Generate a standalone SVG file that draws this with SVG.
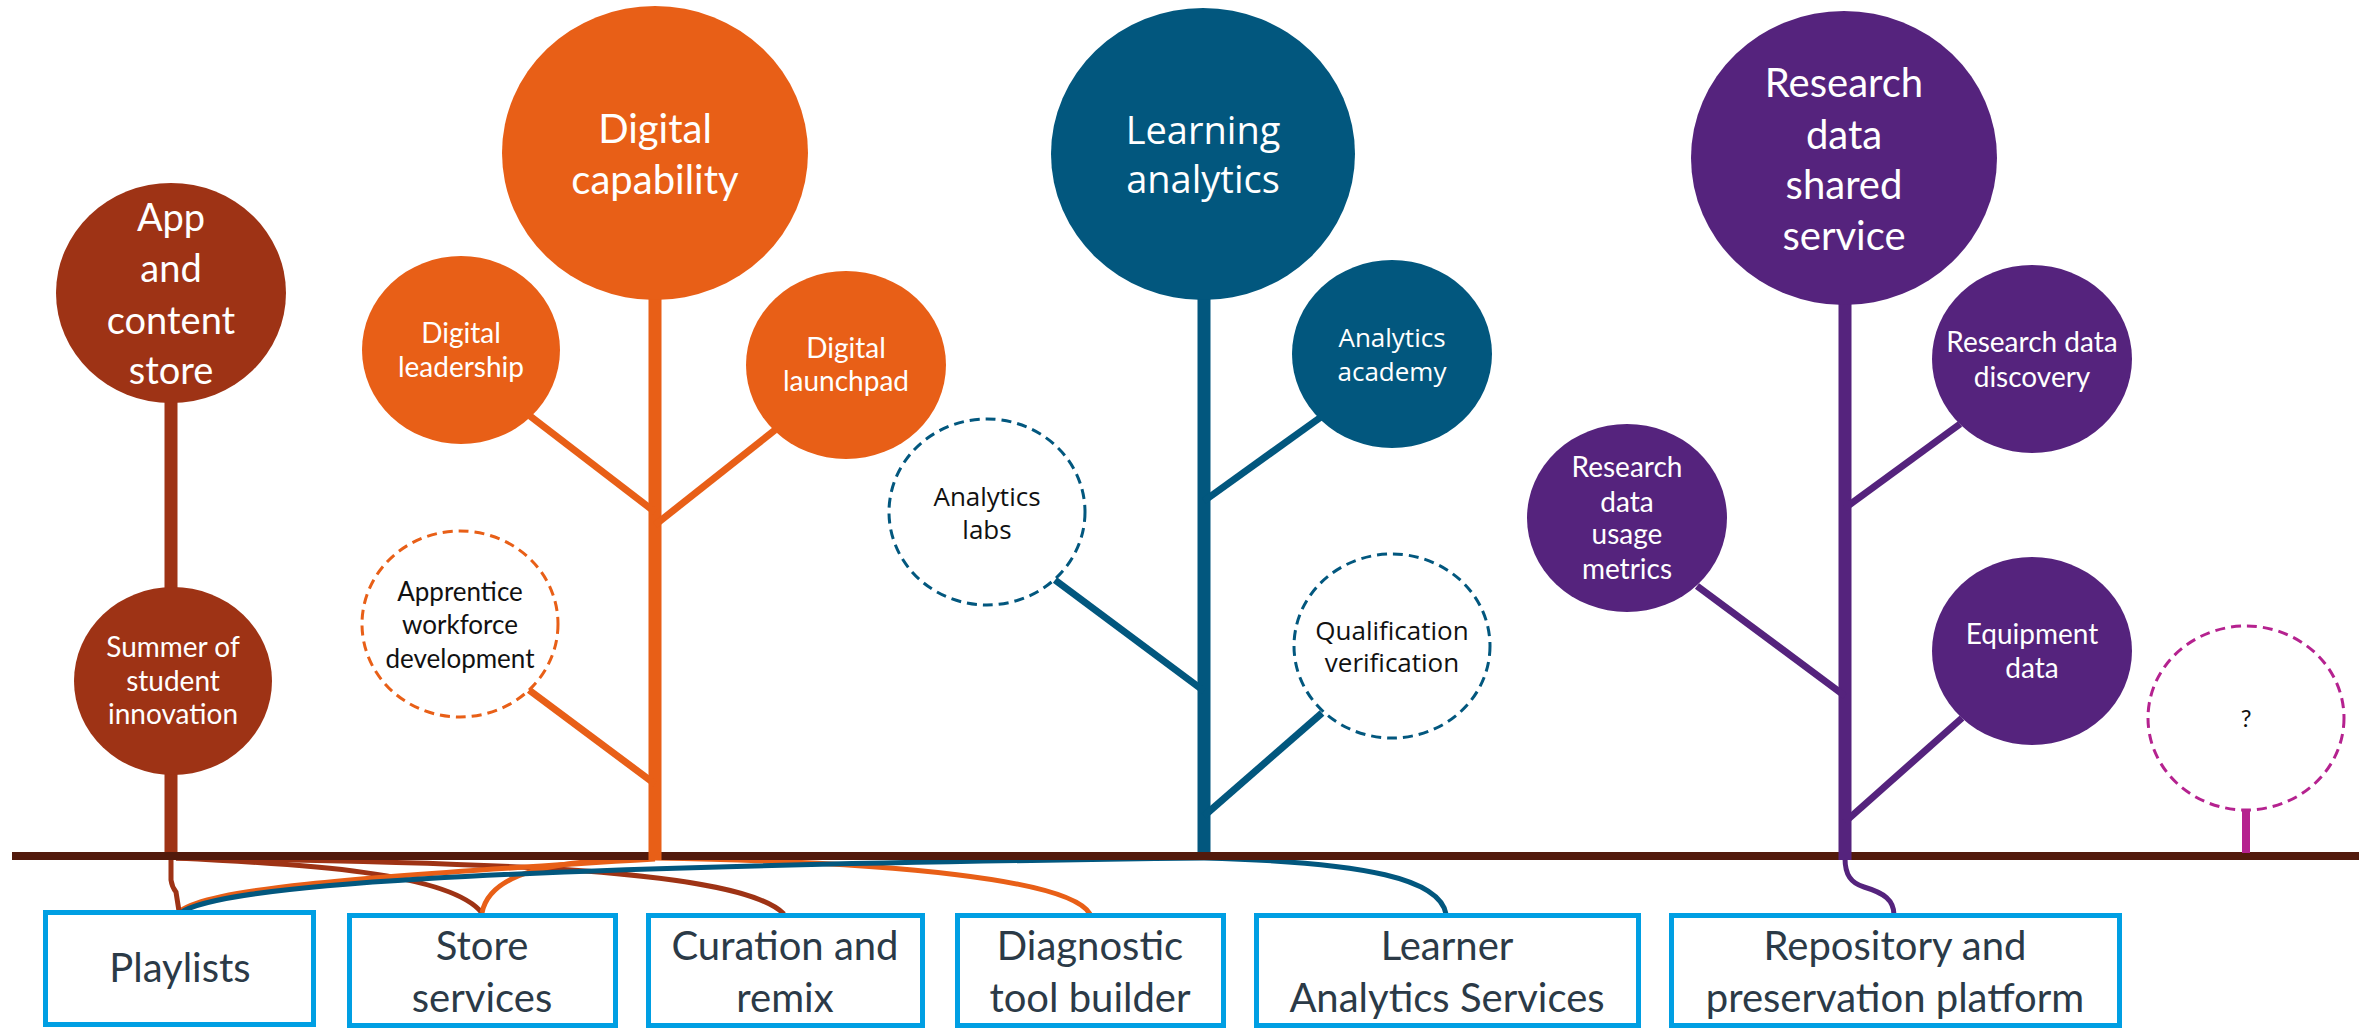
<svg xmlns="http://www.w3.org/2000/svg" width="2374" height="1029" viewBox="0 0 2374 1029">
<style>
text{font-family:Lato,"Open Sans","Liberation Sans",sans-serif;text-anchor:middle}
.wt{fill:#ffffff}
.bk{fill:#111111}
.big{font-size:40px}
.sm{font-size:28px}
.sm26{font-size:26px}
.la{font-family:"Open Sans",Lato,"Liberation Sans",sans-serif}
.box rect{fill:#ffffff;stroke:#009FE3;stroke-width:5}
.box text{fill:#2B3A47;font-size:40px}
.rust{fill:#9E3315}
.org{fill:#E85F17}
.blu{fill:#02577E}
.pur{fill:#55237D}
.dash{fill:#ffffff;stroke-width:3;stroke-dasharray:10 6}
.c{fill:none;stroke-width:5}
</style>
<g id="connectors">
  <path class="c" stroke="#9E3315" d="M176,858 C300,864 450,872 482,913"/>
  <path class="c" stroke="#9E3315" d="M176,858 C500,862 740,870 784,914"/>
  <path class="c" stroke="#E85F17" d="M655,858 C560,860 490,870 482,913"/>
  <path class="c" stroke="#E85F17" d="M655,858 C900,862 1070,880 1090,914"/>
  <path class="c" stroke="#E85F17" d="M180,911 C210,890 330,878 655,859"/>
  <path class="c" stroke="#02577E" d="M180,913 C220,886 450,867 1204,858"/>
  <path class="c" stroke="#02577E" d="M1204,858 C1370,862 1440,880 1446,914"/>
  <path class="c" stroke="#9E3315" d="M171,858 L171,880 Q172,887 176,892 L179,911"/>
  <path class="c" stroke="#55237D" d="M1845,858 C1845,875 1851,883 1864,887 C1884,893 1894,900 1894,915"/>
  <line x1="12" y1="856" x2="2359" y2="856" stroke="#521A0C" stroke-width="8"/>
  <g stroke="#9E3315" stroke-width="13">
    <line x1="171" y1="395" x2="171" y2="592"/>
    <line x1="171" y1="770" x2="171" y2="852"/>
  </g>
  <g stroke="#E85F17">
    <line x1="655" y1="290" x2="655" y2="860" stroke-width="13"/>
    <line x1="530" y1="416" x2="655" y2="512" stroke-width="7"/>
    <line x1="775" y1="430" x2="655" y2="525" stroke-width="7"/>
    <line x1="529" y1="690" x2="655" y2="784" stroke-width="7"/>
  </g>
  <g stroke="#02577E">
    <line x1="1204" y1="290" x2="1204" y2="852" stroke-width="13"/>
    <line x1="1321" y1="417" x2="1204" y2="501" stroke-width="7"/>
    <line x1="1055" y1="580" x2="1204" y2="691" stroke-width="7"/>
    <line x1="1322" y1="713" x2="1204" y2="816" stroke-width="7"/>
  </g>
  <g stroke="#55237D">
    <line x1="1845" y1="295" x2="1845" y2="860" stroke-width="13"/>
    <line x1="1960" y1="424" x2="1845" y2="508" stroke-width="7"/>
    <line x1="1697" y1="586" x2="1845" y2="696" stroke-width="7"/>
    <line x1="1962" y1="718" x2="1845" y2="822" stroke-width="7"/>
  </g>
  <line x1="2246" y1="810" x2="2246" y2="853" stroke="#B5228F" stroke-width="8"/>
</g>
<g id="app-content-store">
  <ellipse class="rust" cx="171" cy="293" rx="115" ry="110"/>
  <text class="wt" font-size="38"><tspan x="171" y="231">App</tspan><tspan x="171" y="282">and</tspan><tspan x="171" y="334">content</tspan><tspan x="171" y="384">store</tspan></text>
</g>
<g id="summer-student-innovation">
  <ellipse class="rust" cx="173" cy="681" rx="99" ry="94"/>
  <text class="wt sm"><tspan x="173" y="657">Summer of</tspan><tspan x="173" y="691">student</tspan><tspan x="173" y="724">innovation</tspan></text>
</g>
<g id="digital-capability">
  <ellipse class="org" cx="655" cy="153" rx="153" ry="147"/>
  <text class="wt big"><tspan x="655" y="143">Digital</tspan><tspan x="655" y="194">capability</tspan></text>
</g>
<g id="digital-leadership">
  <ellipse class="org" cx="461" cy="350" rx="99" ry="94"/>
  <text class="wt sm"><tspan x="461" y="343">Digital</tspan><tspan x="461" y="377">leadership</tspan></text>
</g>
<g id="digital-launchpad">
  <ellipse class="org" cx="846" cy="365" rx="100" ry="94"/>
  <text class="wt sm"><tspan x="846" y="358">Digital</tspan><tspan x="846" y="391">launchpad</tspan></text>
</g>
<g id="apprentice-workforce">
  <ellipse class="dash" stroke="#E85F17" cx="460" cy="624" rx="98" ry="93"/>
  <text class="bk sm26"><tspan x="460" y="601">Apprentice</tspan><tspan x="460" y="634">workforce</tspan><tspan x="460" y="668">development</tspan></text>
</g>
<g id="learning-analytics">
  <ellipse class="blu" cx="1203" cy="154" rx="152" ry="146"/>
  <text class="wt la" font-size="38"><tspan x="1203" y="144">Learning</tspan><tspan x="1203" y="193">analytics</tspan></text>
</g>
<g id="analytics-academy">
  <ellipse class="blu" cx="1392" cy="354" rx="100" ry="94"/>
  <text class="wt sm26 la"><tspan x="1392" y="347">Analytics</tspan><tspan x="1392" y="381">academy</tspan></text>
</g>
<g id="analytics-labs">
  <ellipse class="dash" stroke="#02577E" cx="987" cy="512" rx="98" ry="93"/>
  <text class="bk sm26 la"><tspan x="987" y="506">Analytics</tspan><tspan x="987" y="539">labs</tspan></text>
</g>
<g id="qualification-verification">
  <ellipse class="dash" stroke="#02577E" cx="1392" cy="646" rx="98" ry="92"/>
  <text class="bk sm26 la"><tspan x="1392" y="640">Qualification</tspan><tspan x="1392" y="672">verification</tspan></text>
</g>
<g id="research-data-shared-service">
  <ellipse class="pur" cx="1844" cy="158" rx="153" ry="147"/>
  <text class="wt big"><tspan x="1844" y="97">Research</tspan><tspan x="1844" y="149">data</tspan><tspan x="1844" y="199">shared</tspan><tspan x="1844" y="250">service</tspan></text>
</g>
<g id="research-data-discovery">
  <ellipse class="pur" cx="2032" cy="359" rx="100" ry="94"/>
  <text class="wt sm"><tspan x="2032" y="352">Research data</tspan><tspan x="2032" y="387">discovery</tspan></text>
</g>
<g id="research-data-usage-metrics">
  <ellipse class="pur" cx="1627" cy="518" rx="100" ry="94"/>
  <text class="wt sm"><tspan x="1627" y="477">Research</tspan><tspan x="1627" y="512">data</tspan><tspan x="1627" y="544">usage</tspan><tspan x="1627" y="579">metrics</tspan></text>
</g>
<g id="equipment-data">
  <ellipse class="pur" cx="2032" cy="651" rx="100" ry="94"/>
  <text class="wt sm"><tspan x="2032" y="644">Equipment</tspan><tspan x="2032" y="678">data</tspan></text>
</g>
<g id="unknown">
  <ellipse class="dash" stroke="#B5228F" cx="2246" cy="718" rx="98" ry="92"/>
  <text class="bk" font-size="24" x="2246" y="727">?</text>
</g>
<g id="playlists" class="box">
  <rect x="45.5" y="912.5" width="268" height="112"/>
  <text x="180" y="982">Playlists</text>
</g>
<g id="store-services" class="box">
  <rect x="349.5" y="915.5" width="266" height="110"/>
  <text><tspan x="482" y="960">Store</tspan><tspan x="482" y="1012">services</tspan></text>
</g>
<g id="curation-remix" class="box">
  <rect x="648.5" y="915.5" width="274" height="110"/>
  <text><tspan x="785" y="960">Curation and</tspan><tspan x="785" y="1012">remix</tspan></text>
</g>
<g id="diagnostic-tool-builder" class="box">
  <rect x="957.5" y="915.5" width="266" height="110"/>
  <text><tspan x="1090" y="960">Diagnostic</tspan><tspan x="1090" y="1012">tool builder</tspan></text>
</g>
<g id="learner-analytics-services" class="box">
  <rect x="1256.5" y="915.5" width="382" height="110"/>
  <text><tspan x="1447" y="960">Learner</tspan><tspan x="1447" y="1012">Analytics Services</tspan></text>
</g>
<g id="repository-preservation" class="box">
  <rect x="1671.5" y="915.5" width="448" height="110"/>
  <text><tspan x="1895" y="960">Repository and</tspan><tspan x="1895" y="1012">preservation platform</tspan></text>
</g>
</svg>
